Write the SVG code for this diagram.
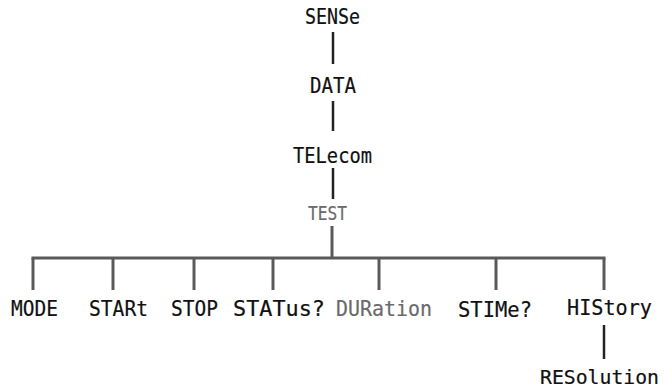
<svg xmlns="http://www.w3.org/2000/svg" width="664" height="390" viewBox="0 0 664 390">
<style>
text{font-family:"DejaVu Sans Mono","Liberation Mono",monospace;font-size:21px;fill:#111;stroke:#111;stroke-width:0.2}
.g{fill:#6a6a6a;stroke:#6a6a6a}
.c line{stroke:#222;stroke-width:2.5;stroke-linecap:butt}
.c .h{stroke:#5a5a5a;stroke-width:3}
</style>
<rect width="664" height="390" fill="#fff"/>
<g class="c" id="connectors">
<line x1="333" y1="32" x2="333" y2="64"/>
<line x1="333" y1="101" x2="333" y2="131"/>
<line x1="333" y1="168" x2="333" y2="199"/>
<line class="h" x1="332" y1="226" x2="332" y2="258"/>
<line class="h" x1="31.5" y1="258" x2="605.5" y2="258"/>
<line class="h" x1="33" y1="258" x2="33" y2="290"/>
<line class="h" x1="113" y1="258" x2="113" y2="290"/>
<line class="h" x1="194" y1="258" x2="194" y2="290"/>
<line class="h" x1="273" y1="258" x2="273" y2="290"/>
<line class="h" x1="379" y1="258" x2="379" y2="290"/>
<line class="h" x1="496" y1="258" x2="496" y2="290"/>
<line class="h" x1="604" y1="258" x2="604" y2="290"/>
<line x1="604" y1="325" x2="604" y2="359"/>
</g>
<g id="n-sense"><text x="305" y="24" textLength="55" lengthAdjust="spacingAndGlyphs">SENSe</text></g>
<g id="n-data"><text x="310" y="93" textLength="46" lengthAdjust="spacingAndGlyphs">DATA</text></g>
<g id="n-telecom"><text x="293" y="163" textLength="79" lengthAdjust="spacingAndGlyphs">TELecom</text></g>
<g id="n-test"><text class="g" x="308" y="220" textLength="39" lengthAdjust="spacingAndGlyphs" style="font-size:19px">TEST</text></g>
<g id="n-mode"><text x="11" y="316" textLength="47" lengthAdjust="spacingAndGlyphs">MODE</text></g>
<g id="n-start"><text x="89" y="316" textLength="59" lengthAdjust="spacingAndGlyphs">STARt</text></g>
<g id="n-stop"><text x="171" y="316" textLength="47" lengthAdjust="spacingAndGlyphs">STOP</text></g>
<g id="n-status"><text x="233" y="316" textLength="92" lengthAdjust="spacingAndGlyphs">STATus?</text></g>
<g id="n-duration"><text class="g" x="336" y="316" textLength="96" lengthAdjust="spacingAndGlyphs">DURation</text></g>
<g id="n-stime"><text x="458" y="317" textLength="74" lengthAdjust="spacingAndGlyphs">STIMe?</text></g>
<g id="n-history"><text x="567" y="315" textLength="85" lengthAdjust="spacingAndGlyphs">HIStory</text></g>
<g id="n-resolution"><text x="540" y="384" textLength="119" lengthAdjust="spacingAndGlyphs" style="font-size:20px">RESolution</text></g>
</svg>
